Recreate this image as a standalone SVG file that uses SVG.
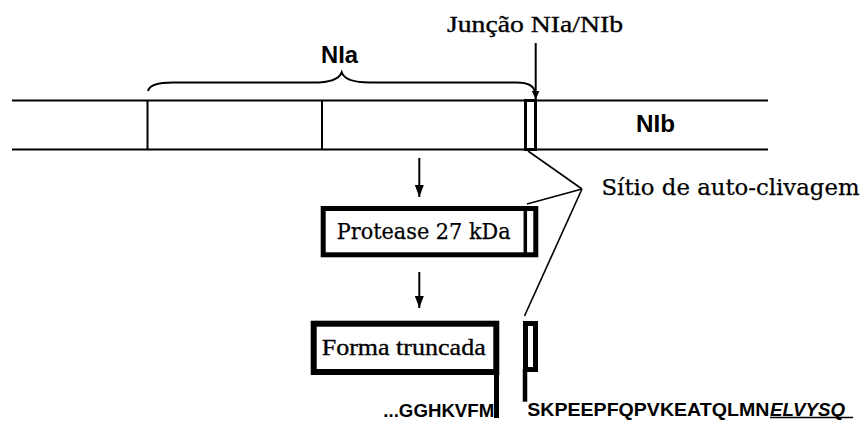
<svg xmlns="http://www.w3.org/2000/svg" width="863" height="421" viewBox="0 0 863 421">
<style>
.ln{stroke:#000;stroke-width:2;fill:none}
.thick{stroke:#000;fill:#fff}
.sans{font-family:"Liberation Sans",Arial,sans-serif;font-weight:bold;fill:#000}
.times{font-family:"Liberation Serif","Times New Roman",serif;fill:#000;stroke:#000;stroke-width:0.35}
.camb{font-family:"DejaVu Serif","Liberation Serif",serif;fill:#000;stroke:#000;stroke-width:0.25}
</style>
<defs>
<marker id="ah" markerUnits="userSpaceOnUse" viewBox="0 0 12 9" refX="12" refY="4.5" markerWidth="12" markerHeight="9" orient="auto">
<path d="M0,0 L12,4.5 L0,9 z" fill="#000"/>
</marker>
<marker id="ahs" markerUnits="userSpaceOnUse" viewBox="0 0 9 8" refX="9" refY="4" markerWidth="9" markerHeight="8" orient="auto">
<path d="M0,0 L9,4 L0,8 z" fill="#000"/>
</marker>
</defs>
<rect width="863" height="421" fill="#fff"/>

<g id="polyprotein-bar">
<line class="ln" x1="12" y1="100.5" x2="768" y2="100.5"/>
<line class="ln" x1="12" y1="149.5" x2="768" y2="149.5"/>
<line class="ln" x1="147.5" y1="100.5" x2="147.5" y2="149.5"/>
<line class="ln" x1="322" y1="100.5" x2="322" y2="149.5"/>
<rect class="thick" x="525.5" y="100.5" width="10" height="49" stroke-width="3"/>
</g>

<g id="nia-label">
<path class="ln" d="M148,91 Q150,82.5 173,82.5 L313,82.5 Q338,82.5 341.7,72.3 Q345,82.5 370,82.5 L517,82.5 Q533,82.5 535,92"/>
<text class="sans" x="321" y="62.7" font-size="23" textLength="37" lengthAdjust="spacingAndGlyphs">NIa</text>
</g>

<g id="nib-label">
<text class="sans" x="636" y="131.7" font-size="23" textLength="39" lengthAdjust="spacingAndGlyphs">NIb</text>
</g>

<g id="junction-label">
<text class="times" x="447" y="31.7" font-size="23.5" textLength="176" lengthAdjust="spacingAndGlyphs">Junção NIa/NIb</text>
</g>

<g id="site-label">
<text class="camb" x="601.5" y="194.5" font-size="22" textLength="258" lengthAdjust="spacingAndGlyphs">Sítio de auto-clivagem</text>
</g>

<g id="protease">
<rect class="thick" x="323.2" y="208.5" width="212.6" height="46.3" stroke-width="5"/>
<line x1="525.3" y1="208.5" x2="525.3" y2="254.8" stroke="#000" stroke-width="3.5"/>
<text class="camb" x="336.7" y="239.3" font-size="21.5" textLength="174" lengthAdjust="spacingAndGlyphs">Protease 27 kDa</text>
</g>

<g id="truncada">
<rect class="thick" x="313.7" y="323.7" width="182.6" height="48.3" stroke-width="6"/>
<line x1="496.5" y1="372" x2="496.5" y2="418" stroke="#000" stroke-width="5"/>
<text class="times" x="321.7" y="355" font-size="24" textLength="164" lengthAdjust="spacingAndGlyphs">Forma truncada</text>
</g>

<g id="cleaved-site">
<rect class="thick" x="525.5" y="323.5" width="10" height="46" stroke-width="5"/>
<line x1="525" y1="369" x2="525" y2="401.7" stroke="#000" stroke-width="4.5"/>
</g>

<g id="seq-left">
<text class="sans" x="383.3" y="416.5" font-size="18.5" textLength="111" lengthAdjust="spacingAndGlyphs">...GGHKVFM</text>
</g>

<g id="seq-right">
<text class="sans" x="527.3" y="415.5" font-size="18.5" textLength="242" lengthAdjust="spacingAndGlyphs">SKPEEPFQPVKEATQLMN</text>
<text class="sans" x="770" y="415.5" font-size="18.5" font-style="italic" textLength="75" lengthAdjust="spacingAndGlyphs">ELVYSQ</text>
<line x1="770" y1="417.5" x2="853" y2="417.5" stroke="#000" stroke-width="1.5"/>
</g>

<g id="connectors">
<line class="ln" x1="535.7" y1="43" x2="535.7" y2="99.5" marker-end="url(#ahs)"/>
<line class="ln" x1="419.3" y1="158" x2="419.3" y2="197" marker-end="url(#ah)"/>
<line class="ln" x1="419.3" y1="272" x2="419.3" y2="308" marker-end="url(#ah)"/>
<line x1="582" y1="189" x2="528" y2="151" stroke="#000" stroke-width="1.6"/>
<line x1="582" y1="189" x2="527" y2="204" stroke="#000" stroke-width="1.6"/>
<line x1="582" y1="189" x2="524.5" y2="316" stroke="#000" stroke-width="1.6"/>
</g>
</svg>
